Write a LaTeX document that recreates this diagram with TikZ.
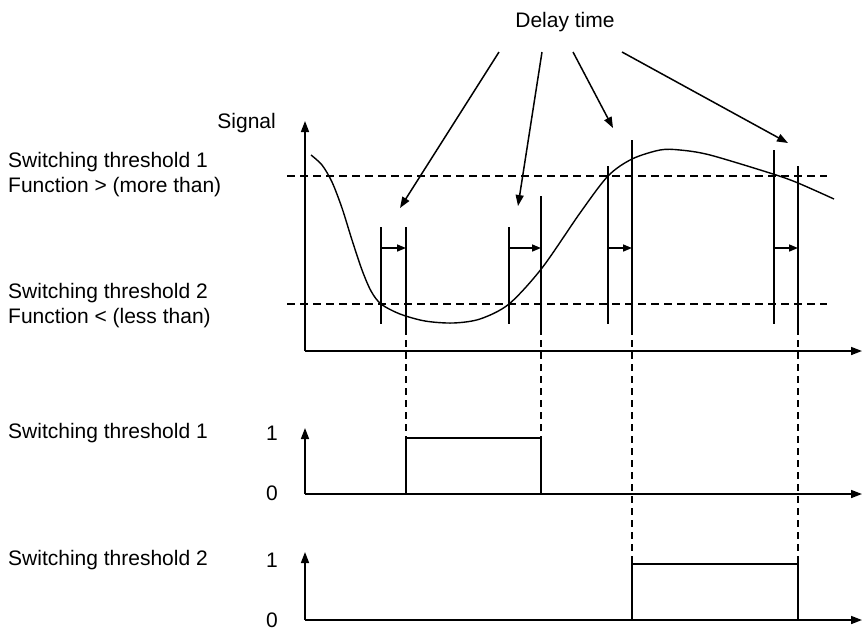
\documentclass[tikz,border=0pt]{standalone}
\usepackage{fontspec}
\setmainfont{Liberation Sans}
\usetikzlibrary{arrows.meta}
\begin{document}
\begin{tikzpicture}[x=1pt,y=-1pt,
  lbl/.style={inner sep=0pt,anchor=west,font=\fontsize{21}{25}\selectfont},
  num/.style={inner sep=0pt,font=\fontsize{21}{25}\selectfont},
  axis/.style={line width=1.6pt,-{Triangle[length=11pt,width=8pt]}},
  thr/.style={line width=1.3pt,dash pattern=on 8pt off 5pt},
  bar/.style={line width=1.5pt},
  vdash/.style={line width=1.3pt,dash pattern=on 7pt off 5pt},
  delay/.style={line width=1.5pt,-{Triangle[length=11pt,width=8pt]}},
  small/.style={line width=1.5pt,-{Triangle[length=9pt,width=7pt]}},
  pulse/.style={line width=1.6pt},
  curve/.style={line width=1.4pt}]
\useasboundingbox (0,0) rectangle (864,641);

% texts
\node[num] (delay) at (565,22) {Delay time};
\node[num,anchor=east] (sig) at (276,123) {Signal};
\node[lbl] (t1a) at (8,162) {Switching threshold 1};
\node[lbl] (t1b) at (8,187) {Function > (more than)};
\node[lbl] (t2a) at (8,293) {Switching threshold 2};
\node[lbl] (t2b) at (8,318) {Function < (less than)};
\node[lbl] (s1) at (8,433) {Switching threshold 1};
\node[lbl] (s2) at (8,560) {Switching threshold 2};
\node[num] (one1) at (272,433) {1};
\node[num] (zero1) at (272,493) {0};
\node[num] (one2) at (272,560) {1};
\node[num] (zero2) at (272,620) {0};

% axes
\coordinate (O) at (305,351);
\coordinate (Oy) at (305,121);
\coordinate (Ox) at (862,351);
\coordinate (O1) at (305,494);
\coordinate (O1y) at (305,428);
\coordinate (O1x) at (862,494);
\coordinate (O2) at (305,620);
\coordinate (O2y) at (305,552);
\coordinate (O2x) at (862,620);
\draw[axis] (O) -- (Oy);
\draw[axis] (O) -- (Ox);
\draw[axis] (O1) -- (O1y);
\draw[axis] (O1) -- (O1x);
\draw[axis] (O2) -- (O2y);
\draw[axis] (O2) -- (O2x);

% thresholds
\coordinate (th1a) at (287,176);
\coordinate (th1b) at (827,176);
\coordinate (th2a) at (287,304);
\coordinate (th2b) at (827,304);
\draw[thr] (th1a) -- (th1b);
\draw[thr] (th2a) -- (th2b);

% signal curve
\draw[curve] plot[smooth,tension=0.5] coordinates {
 (311,155) (322,165) (332,182) (342,208) (352,240) (362,270) (371,291)
 (381,304) (400,314) (425,321) (453,323) (480,319) (509,304) (542,268)
 (580,213) (608,176) (632,159) (660,150) (680,150) (710,155) (773,174)
 (798,183) (834,199)};

% bars: left bars
\foreach \n/\x/\tp in {A/381/227, B/509/227, C/608/166, D/774/150} {
  \coordinate (L\n-t) at (\x,\tp);
  \coordinate (L\n-b) at (\x,324);
  \draw[bar] (L\n-t) -- (L\n-b);
}
% right bars
\foreach \n/\x/\tp/\lo in {A/406/227/438, B/541/196/438, C/632/140/564, D/798/166/564} {
  \coordinate (R\n-t) at (\x,\tp);
  \coordinate (R\n-m) at (\x,328);
  \coordinate (R\n-b) at (\x,\lo);
  \draw[bar] (R\n-t) -- (R\n-m);
  \draw[vdash] (R\n-m) -- (R\n-b);
}
% small delay arrows
\foreach \n/\a/\b in {A/381/406, B/509/541, C/608/632, D/774/798} {
  \coordinate (sa\n) at (\a,248);
  \coordinate (sb\n) at (\b,248);
  \draw[small] (sa\n) -- (sb\n);
}

% delay time arrows
\coordinate (d1s) at (499,52);  \coordinate (d1e) at (400,208);
\coordinate (d2s) at (542,52);  \coordinate (d2e) at (518,206);
\coordinate (d3s) at (573,52);  \coordinate (d3e) at (613,128);
\coordinate (d4s) at (622,52);  \coordinate (d4e) at (788,143);
\draw[delay] (d1s) -- (d1e);
\draw[delay] (d2s) -- (d2e);
\draw[delay] (d3s) -- (d3e);
\draw[delay] (d4s) -- (d4e);

% pulses
\draw[pulse] (RA-b|-O1) -- (RA-b) -- (RB-b) -- (RB-b|-O1);
\draw[pulse] (RC-b|-O2) -- (RC-b) -- (RD-b) -- (RD-b|-O2);
\end{tikzpicture}
\end{document}
